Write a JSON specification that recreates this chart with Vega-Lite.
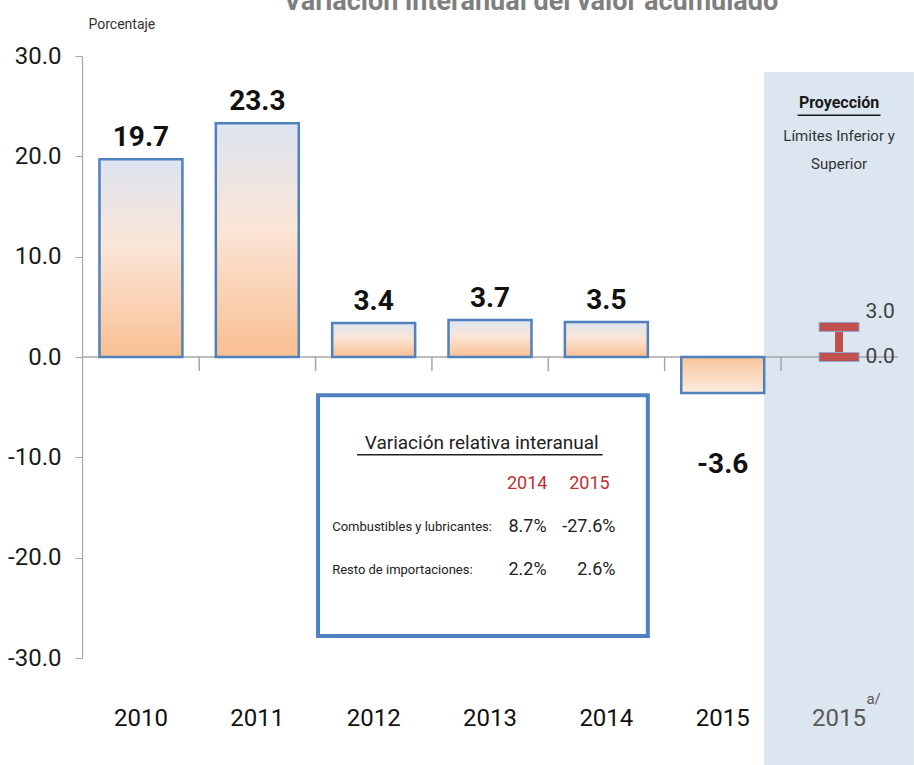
{
  "$schema": "https://vega.github.io/schema/vega-lite/v6.json",
  "width": 816,
  "height": 602,
  "autosize": {"type": "none"},
  "padding": {"left": 82, "top": 56, "right": 16, "bottom": 107},
  "background": "white",
  "config": {
    "view": {"stroke": null},
    "font": "Roboto",
    "text": {"font": "Roboto"}
  },
  "title": {
    "text": "Variación interanual del valor acumulado",
    "fontSize": 27,
    "fontWeight": "bold",
    "color": "#7f7f7f",
    "anchor": "middle",
    "baseline": "alphabetic",
    "offset": -20,
    "dx": 41
  },
  "data": {"values": [{}]},
  "datasets": {
    "bars": [
      {"year": "2010", "value": 19.7},
      {"year": "2011", "value": 23.3},
      {"year": "2012", "value": 3.4},
      {"year": "2013", "value": 3.7},
      {"year": "2014", "value": 3.5},
      {"year": "2015", "value": -3.6}
    ],
    "ticks": [
      {"year": "2011"}, {"year": "2012"}, {"year": "2013"}, {"year": "2014"}, {"year": "2015"}, {"year": "2015a"}
    ],
    "proj": [
      {"year": "2015a", "lo": 0, "hi": 3.0}
    ]
  },
  "layer": [
    {
      "mark": {"type": "rect", "fill": "#dce6f1", "clip": false},
      "encoding": {
        "x": {
          "datum": "2015", "type": "nominal", "bandPosition": 1,
          "scale": {"domain": ["2010", "2011", "2012", "2013", "2014", "2015", "2015a"], "paddingInner": 0.287, "paddingOuter": 0.15},
          "axis": {
            "title": null, "orient": "bottom", "domain": false, "ticks": false,
            "labelAngle": 0, "labelFontSize": 24, "labelPadding": 48, "labelBaseline": "top",
            "labelExpr": "datum.value == '2015a' ? '2015' : datum.value",
            "labelColor": {"condition": {"test": "datum.value == '2015a'", "value": "#595959"}, "value": "#111111"}
          }
        },
        "x2": {"datum": "2015a", "bandPosition": 1.4},
        "y": {
          "datum": 28.4, "type": "quantitative",
          "scale": {"domain": [-30, 30], "nice": false, "zero": false},
          "axis": {
            "title": "Porcentaje", "titleAngle": 0, "titleX": 6, "titleY": -32, "titleAlign": "left", "titleBaseline": "middle",
            "titleFontSize": 14, "titleFontWeight": "normal", "titleColor": "#333333",
            "values": [-30, -20, -10, 0, 10, 20, 30], "format": ".1f", "grid": false,
            "labelExpr": "replace(datum.label, '−', '-')",
            "labelFontSize": 24, "labelColor": "#1a1a1a", "labelPadding": 14,
            "tickSize": 7, "tickColor": "#a6a6a6", "domainColor": "#a6a6a6", "domainWidth": 1.2
          }
        },
        "y2": {"datum": -41}
      }
    },
    {
      "mark": {"type": "rule", "color": "#a6a6a6", "strokeWidth": 1.5},
      "encoding": {"y": {"datum": 0, "type": "quantitative"}}
    },
    {
      "data": {"name": "ticks"},
      "mark": {"type": "rule", "color": "#a6a6a6", "strokeWidth": 1.5},
      "encoding": {
        "x": {"field": "year", "type": "nominal", "bandPosition": -0.2},
        "y": {"datum": 0, "type": "quantitative"},
        "y2": {"datum": -1.4}
      }
    },
    {
      "data": {"name": "bars"},
      "transform": [{"filter": "datum.value > 0"}],
      "mark": {
        "type": "bar", "stroke": "#4f81bd", "strokeWidth": 2.5,
        "fill": {"gradient": "linear", "x1": 0, "y1": 0, "x2": 0, "y2": 1,
          "stops": [{"offset": 0, "color": "#dde4f1"}, {"offset": 0.45, "color": "#fbe5d6"}, {"offset": 1, "color": "#f9bf92"}]}
      },
      "encoding": {
        "x": {"field": "year", "type": "nominal"},
        "y": {"field": "value", "type": "quantitative"},
        "y2": {"datum": 0}
      }
    },
    {
      "data": {"name": "bars"},
      "transform": [{"filter": "datum.value < 0"}],
      "mark": {
        "type": "bar", "stroke": "#4f81bd", "strokeWidth": 2.5,
        "fill": {"gradient": "linear", "x1": 0, "y1": 0, "x2": 0, "y2": 1,
          "stops": [{"offset": 0, "color": "#f9c59b"}, {"offset": 1, "color": "#fdece0"}]}
      },
      "encoding": {
        "x": {"field": "year", "type": "nominal"},
        "y": {"field": "value", "type": "quantitative"},
        "y2": {"datum": 0}
      }
    },
    {
      "data": {"name": "bars"},
      "transform": [{"filter": "datum.value > 0"}],
      "mark": {"type": "text", "fontSize": 28, "fontWeight": "bold", "color": "#111111", "baseline": "alphabetic", "dy": -13},
      "encoding": {
        "x": {"field": "year", "type": "nominal"},
        "y": {"field": "value", "type": "quantitative"},
        "text": {"field": "value", "type": "quantitative", "format": ".1f"}
      }
    },
    {
      "data": {"name": "bars"},
      "transform": [{"filter": "datum.value < 0"}],
      "mark": {"type": "text", "fontSize": 28, "fontWeight": "bold", "color": "#111111", "baseline": "top", "dy": 58,
        "text": {"expr": "replace(format(datum.value, '.1f'), '−', '-')"}},
      "encoding": {
        "x": {"field": "year", "type": "nominal"},
        "y": {"field": "value", "type": "quantitative"}
      }
    },
    {
      "mark": {"type": "rect", "fill": "white", "stroke": "#4f81bd", "strokeWidth": 4},
      "encoding": {
        "x": {"datum": "2012", "type": "nominal", "bandPosition": -0.17},
        "x2": {"datum": "2014", "bandPosition": 1.0},
        "y": {"datum": -3.8, "type": "quantitative"},
        "y2": {"datum": -27.8}
      }
    },
    {
      "mark": {"type": "text", "text": "Variación relativa interanual", "fontSize": 19, "color": "#222222", "align": "center", "baseline": "alphabetic"},
      "encoding": {
        "x": {"datum": "2013", "type": "nominal", "bandPosition": 0.4},
        "y": {"datum": -9.2, "type": "quantitative"}
      }
    },
    {
      "mark": {"type": "rule", "color": "#222222", "strokeWidth": 1.5},
      "encoding": {
        "x": {"datum": "2012", "type": "nominal", "bandPosition": 0.3},
        "x2": {"datum": "2014", "bandPosition": 0.455},
        "y": {"datum": -9.75, "type": "quantitative"}
      }
    },
    {
      "mark": {"type": "text", "text": "2014", "fontSize": 18, "color": "#c0302f", "align": "right", "baseline": "middle"},
      "encoding": {
        "x": {"datum": "2014", "type": "nominal", "bandPosition": -0.21},
        "y": {"datum": -12.7, "type": "quantitative"}
      }
    },
    {
      "mark": {"type": "text", "text": "2015", "fontSize": 18, "color": "#c0302f", "align": "right", "baseline": "middle"},
      "encoding": {
        "x": {"datum": "2014", "type": "nominal", "bandPosition": 0.54},
        "y": {"datum": -12.7, "type": "quantitative"}
      }
    },
    {
      "mark": {"type": "text", "text": "Combustibles y lubricantes:", "fontSize": 13, "color": "#222222", "align": "left", "baseline": "middle"},
      "encoding": {
        "x": {"datum": "2012", "type": "nominal", "bandPosition": 0.0},
        "y": {"datum": -16.9, "type": "quantitative"}
      }
    },
    {
      "mark": {"type": "text", "text": "Resto de importaciones:", "fontSize": 13, "color": "#222222", "align": "left", "baseline": "middle"},
      "encoding": {
        "x": {"datum": "2012", "type": "nominal", "bandPosition": 0.0},
        "y": {"datum": -21.2, "type": "quantitative"}
      }
    },
    {
      "mark": {"type": "text", "text": "8.7%", "fontSize": 18, "color": "#222222", "align": "right", "baseline": "middle"},
      "encoding": {
        "x": {"datum": "2014", "type": "nominal", "bandPosition": -0.22},
        "y": {"datum": -16.9, "type": "quantitative"}
      }
    },
    {
      "mark": {"type": "text", "text": "-27.6%", "fontSize": 18, "color": "#222222", "align": "right", "baseline": "middle"},
      "encoding": {
        "x": {"datum": "2014", "type": "nominal", "bandPosition": 0.61},
        "y": {"datum": -16.9, "type": "quantitative"}
      }
    },
    {
      "mark": {"type": "text", "text": "2.2%", "fontSize": 18, "color": "#222222", "align": "right", "baseline": "middle"},
      "encoding": {
        "x": {"datum": "2014", "type": "nominal", "bandPosition": -0.22},
        "y": {"datum": -21.2, "type": "quantitative"}
      }
    },
    {
      "mark": {"type": "text", "text": "2.6%", "fontSize": 18, "color": "#222222", "align": "right", "baseline": "middle"},
      "encoding": {
        "x": {"datum": "2014", "type": "nominal", "bandPosition": 0.61},
        "y": {"datum": -21.2, "type": "quantitative"}
      }
    },
    {
      "mark": {"type": "text", "text": "Proyección", "fontSize": 16, "fontWeight": "bold", "color": "#1a1a1a", "align": "center", "baseline": "middle"},
      "encoding": {
        "x": {"datum": "2015a", "type": "nominal", "bandPosition": 0.5},
        "y": {"datum": 25.3, "type": "quantitative"}
      }
    },
    {
      "mark": {"type": "rule", "color": "#1a1a1a", "strokeWidth": 1.5},
      "encoding": {
        "x": {"datum": "2015a", "type": "nominal", "bandPosition": 0.0},
        "x2": {"datum": "2015a", "bandPosition": 1.0},
        "y": {"datum": 24.1, "type": "quantitative"}
      }
    },
    {
      "mark": {"type": "text", "text": "Límites Inferior y", "fontSize": 15, "color": "#333333", "align": "center", "baseline": "middle"},
      "encoding": {
        "x": {"datum": "2015a", "type": "nominal", "bandPosition": 0.5},
        "y": {"datum": 22.0, "type": "quantitative"}
      }
    },
    {
      "mark": {"type": "text", "text": "Superior", "fontSize": 15, "color": "#333333", "align": "center", "baseline": "middle"},
      "encoding": {
        "x": {"datum": "2015a", "type": "nominal", "bandPosition": 0.5},
        "y": {"datum": 19.2, "type": "quantitative"}
      }
    },
    {
      "data": {"name": "proj"},
      "mark": {"type": "rule", "color": "#c0504d", "strokeWidth": 8},
      "encoding": {
        "x": {"field": "year", "type": "nominal"},
        "y": {"field": "lo", "type": "quantitative"},
        "y2": {"field": "hi"}
      }
    },
    {
      "data": {"name": "proj"},
      "mark": {"type": "tick", "color": "#c0504d", "stroke": "#8eaad6", "strokeWidth": 1, "size": 40, "thickness": 9, "opacity": 1},
      "encoding": {
        "x": {"field": "year", "type": "nominal"},
        "y": {"field": "lo", "type": "quantitative"}
      }
    },
    {
      "data": {"name": "proj"},
      "mark": {"type": "tick", "color": "#c0504d", "stroke": "#8eaad6", "strokeWidth": 1, "size": 40, "thickness": 9, "opacity": 1},
      "encoding": {
        "x": {"field": "year", "type": "nominal"},
        "y": {"field": "hi", "type": "quantitative"}
      }
    },
    {
      "data": {"name": "proj"},
      "mark": {"type": "text", "fontSize": 21, "color": "#404040", "align": "left", "baseline": "middle", "dy": -15},
      "encoding": {
        "x": {"field": "year", "type": "nominal", "bandPosition": 0.82},
        "y": {"field": "hi", "type": "quantitative"},
        "text": {"field": "hi", "type": "quantitative", "format": ".1f"}
      }
    },
    {
      "data": {"name": "proj"},
      "mark": {"type": "text", "fontSize": 21, "color": "#404040", "align": "left", "baseline": "middle"},
      "encoding": {
        "x": {"field": "year", "type": "nominal", "bandPosition": 0.82},
        "y": {"field": "lo", "type": "quantitative"},
        "text": {"field": "lo", "type": "quantitative", "format": ".1f"}
      }
    },
    {
      "mark": {"type": "text", "text": "a/", "fontSize": 15, "color": "#595959", "align": "left", "baseline": "middle"},
      "encoding": {
        "x": {"datum": "2015a", "type": "nominal", "bandPosition": 0.83},
        "y": {"datum": -34.1, "type": "quantitative"}
      }
    }
  ]
}
